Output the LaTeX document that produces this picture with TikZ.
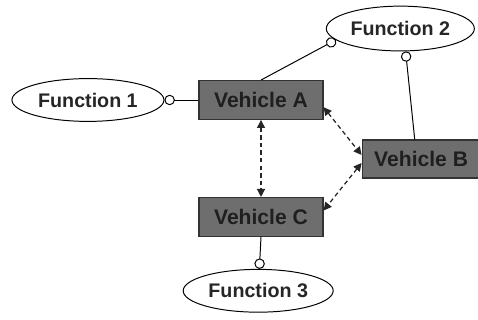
\documentclass[tikz,border=0pt]{standalone}
\usepackage{fontspec}
\setmainfont{Liberation Sans}
\usepackage{tikz}
\usetikzlibrary{arrows.meta,shapes,positioning,calc}

\begin{document}
\begin{tikzpicture}[
  vehicle/.style={rectangle, draw=black!80, line width=0.8pt, fill=black!57, text=black!88, font=\fontsize{15}{17}\selectfont\bfseries, minimum width=3.1cm, minimum height=0.97cm, inner sep=0pt},
  func/.style={ellipse, draw, line width=0.7pt, fill=white, text=black!85, font=\fontsize{14}{16}\selectfont\bfseries, minimum width=3.8cm, minimum height=1.07cm, inner sep=0pt},
  link/.style={-{Circle[open,length=2.6mm,line width=0.7pt]}, line width=0.7pt},
  dasharrow/.style={{Triangle[length=2mm,width=2mm]}-{Triangle[length=2mm,width=2mm]}, dashed, dash pattern=on 1.1mm off 0.8mm, line width=0.9pt, black!85}
]
  \useasboundingbox (0,0) rectangle (11.95,8);
  \node[vehicle] at (6.525,5.5) (va) {Vehicle A};
  \node[vehicle, below=1.925cm of va] (vc) {Vehicle C};
  \node[vehicle, minimum width=2.95cm, minimum height=0.95cm, right=0.95cm of va, yshift=-1.475cm] (vb) {Vehicle B};
  \node[func, left=0.85cm of va] (f1) {Function 1};
  \node[func, minimum width=3.7cm, minimum height=1.12cm, above=2.2cm of vb, xshift=-0.52cm] (f2) {Function 2};
  \node[func, minimum width=3.75cm, below=0.8cm of vc, xshift=-0.07cm] (f3) {Function 3};

  % function links
  \draw[link] (va) -- (f1);
  \draw[link] (va.north) -- (f2.190);
  \draw[link] ([xshift=-1.6mm]vb.north) -- (f2.283);
  \draw[link] (vc.south) -- (f3);

  % vehicle communication
  \draw[dasharrow] (va.south) -- (vc.north);
  \draw[dasharrow] ([yshift=-1.8mm]va.east) -- ([yshift=1mm]vb.west);
  \draw[dasharrow] ([yshift=-1mm]vb.west) -- ([yshift=1.6mm]vc.east);
\end{tikzpicture}
\end{document}
